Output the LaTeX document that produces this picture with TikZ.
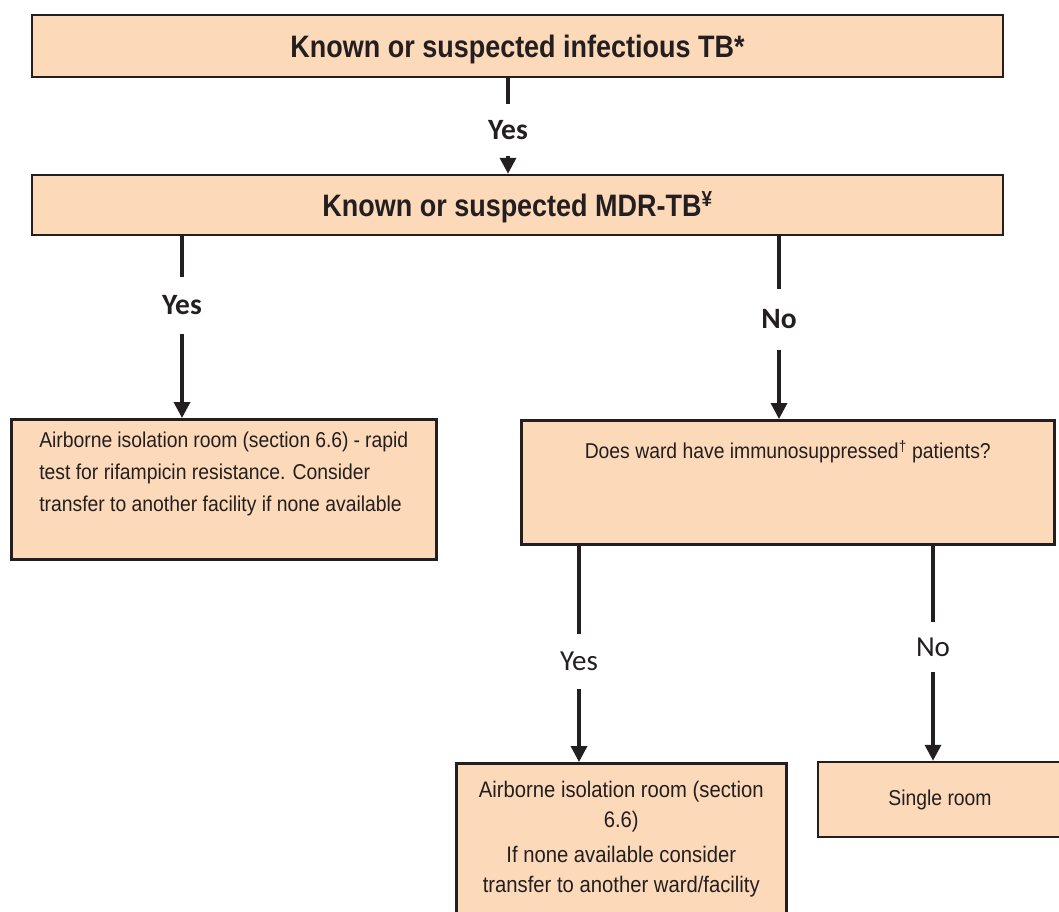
\documentclass[tikz,border=0pt]{standalone}
\usepackage{fontspec}
\usetikzlibrary{arrows.meta,positioning}
\newfontfamily\narrowfont[FakeStretch=0.9]{Liberation Sans}
\newfontfamily\headfont[FakeStretch=0.87]{Liberation Sans}
\newfontfamily\calibfont{Carlito}
\definecolor{boxfill}{RGB}{252,217,185}
\definecolor{ink}{RGB}{35,31,32}
\tikzset{
  flowbox/.style={draw=ink, line width=2.5pt, fill=boxfill, rectangle, inner sep=0pt, text=ink,
    font=\narrowfont\fontsize{21.5}{31}\selectfont},
  headbox/.style={flowbox, text height=22pt, text depth=0pt,
    font=\headfont\bfseries\fontsize{31}{36}\selectfont},
  answer/.style={inner sep=0pt, text=ink, font=\calibfont\fontsize{29}{30}\selectfont},
  boldanswer/.style={answer, font=\calibfont\bfseries\fontsize{29.5}{30}\selectfont},
  flowline/.style={draw=ink, line width=3.5pt},
  flowarrow/.style={flowline, -{Triangle[length=16pt,width=16pt]}}
}
\begin{document}
\begin{tikzpicture}[x=1pt, y=-1pt]
            \useasboundingbox (0,0) rectangle (1059,911);

            \node[headbox, minimum width=971pt, minimum height=62pt] (infect) at (517.5,46) {Known or suspected infectious TB*};
            \node[headbox, minimum width=971pt, minimum height=60pt] (mdr) at (517.5,205) {Known or suspected MDR-TB\textsuperscript{¥}};

            \node[flowbox, anchor=north west, inner xsep=28pt, inner ysep=13pt] (airleft) at (10,418)
                {\fontsize{21.5}{32}\selectfont\parbox[c][114pt][t]{369pt}{\raggedright
                Airborne isolation room (section 6.6) - rapid\\
                test for rifampicin resistance. Consider\\
                transfer to another facility if none available}};
            \node[flowbox, anchor=north west, inner xsep=10pt, inner ysep=20pt] (ward) at (520,419)
                {\parbox[c][84pt][t]{513pt}{\centering
                Does ward have immunosuppressed\textsuperscript{†} patients?}};
            \node[flowbox, anchor=north west, inner xsep=8pt, inner ysep=18pt] (airward) at (455,762)
                {\fontsize{22.5}{30}\selectfont\parbox[c][134pt][t]{314pt}{\centering
                Airborne isolation room (section\\ 6.6)\par\vspace{5pt}
                If none available consider\\ transfer to another ward/facility}};
            \node[flowbox, minimum width=244pt, minimum height=75pt] (single) at (940,799.5) {Single room};

            \node[boldanswer, minimum height=51pt] (yesA) at (508,130) {Yes};
            \node[boldanswer, minimum height=57pt] (yesL) at (182,305.5) {Yes};
            \node[boldanswer, minimum height=61pt] (noR) at (779,319.5) {No};
            \node[answer, minimum height=55pt] (yesW) at (579,661.5) {Yes};
            \node[answer, minimum height=50pt] (noW) at (933,647) {No};

            \draw[flowline] (infect.south -| yesA) -- (yesA);
            \draw[flowarrow] (yesA) -- (mdr.north -| yesA);
            \draw[flowline] (mdr.south -| yesL) -- (yesL);
            \draw[flowarrow] (yesL) -- (airleft.north -| yesL);
            \draw[flowline] (mdr.south -| noR) -- (noR);
            \draw[flowarrow] (noR) -- (ward.north -| noR);
            \draw[flowline] (ward.south -| yesW) -- (yesW);
            \draw[flowarrow] (yesW) -- (airward.north -| yesW);
            \draw[flowline] (ward.south -| noW) -- (noW);
            \draw[flowarrow] (noW) -- (single.north -| noW);
\end{tikzpicture}
\end{document}
